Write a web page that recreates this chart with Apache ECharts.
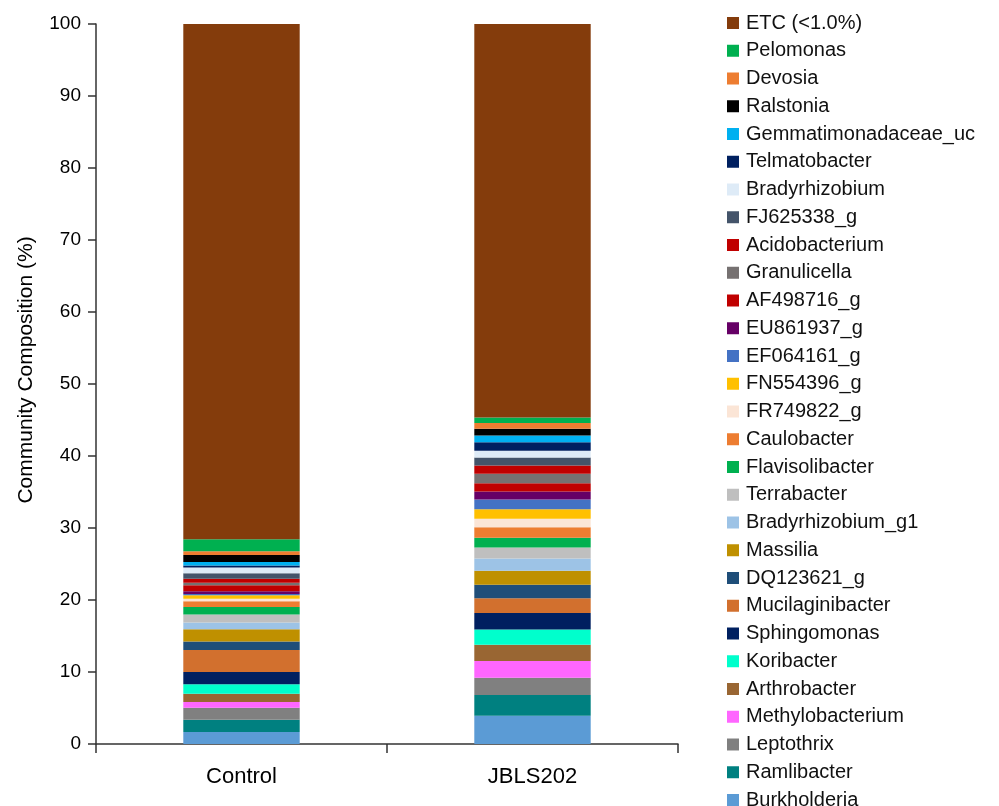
<!DOCTYPE html>
<html>
<head>
<meta charset="utf-8">
<script src="https://cdn.jsdelivr.net/npm/echarts@6/dist/echarts.min.js"></script>
<style>
html, body { margin: 0; padding: 0; background: #fff; }
#chart { width: 999px; height: 806px; }
</style>
</head>
<body>
<div id="chart"></div>
<script>
// stacking order: bottom of the bar first
var taxa = [
    'Burkholderia', 'Ramlibacter', 'Leptothrix', 'Methylobacterium', 'Arthrobacter',
    'Koribacter', 'Sphingomonas', 'Mucilaginibacter', 'DQ123621_g', 'Massilia',
    'Bradyrhizobium_g1', 'Terrabacter', 'Flavisolibacter', 'Caulobacter', 'FR749822_g',
    'FN554396_g', 'EF064161_g', 'EU861937_g', 'AF498716_g', 'Granulicella',
    'Acidobacterium', 'FJ625338_g', 'Bradyrhizobium', 'Telmatobacter', 'Gemmatimonadaceae_uc',
    'Ralstonia', 'Devosia', 'Pelomonas', 'ETC (<1.0%)'
];
var samples = ['Control', 'JBLS202'];
var controlValues = [
    1.67, 1.71, 1.67, 0.79, 1.15,
    1.31, 1.71, 3.06, 1.15, 1.72,
    0.92, 1.11, 1.07, 0.79, 0.36,
    0.47, 0.18, 0.37, 0.83, 0.36,
    0.56, 0.75, 0.80, 0.28, 0.49,
    0.97, 0.51, 1.67, 71.57
];
var jblsValues = [
    3.93, 2.87, 2.40, 2.32, 2.26,
    2.14, 2.26, 2.08, 1.85, 1.94,
    1.72, 1.53, 1.33, 1.48, 1.16,
    1.34, 1.34, 1.11, 1.16, 1.30,
    1.16, 1.11, 0.93, 1.20, 0.93,
    0.93, 0.79, 0.79, 54.65
];
var colors = [
    '#5B9BD5', '#008080', '#808080', '#FF66FF', '#996633',
    '#00FFCC', '#002060', '#D2702E', '#1F4E79', '#BF9000',
    '#9DC3E6', '#BFBFBF', '#00B050', '#ED7D31', '#FBE5D6',
    '#FFC000', '#4472C4', '#660066', '#C00000', '#767171',
    '#C00000', '#44546A', '#DEEBF7', '#002060', '#00B0F0',
    '#000000', '#ED7D31', '#00B050', '#843C0C'
];
var yTicks = [0, 100, 10];

var chart = echarts.init(document.getElementById('chart'));

var series = [];
for (var i = 0; i < taxa.length; i++) {
    series.push({
        name: taxa[i],
        type: 'bar',
        stack: 'total',
        barWidth: '40%',
        itemStyle: { color: colors[i] },
        emphasis: { disabled: true },
        data: [controlValues[i], jblsValues[i]]
    });
}

var option = {
    animation: false,
    textStyle: { fontFamily: 'Liberation Sans' },
    grid: {
        left: 96,
        right: 321,
        top: 24,
        bottom: 62,
        containLabel: false,
        outerBoundsMode: 'none'
    },
    legend: {
        orient: 'vertical',
        left: 727,
        top: 13,
        height: 820,
        padding: 0,
        itemWidth: 12,
        itemHeight: 12,
        itemGap: 7.75,
        icon: 'rect',
        selectedMode: false,
        data: taxa.slice().reverse(),
        textStyle: {
            fontSize: 20,
            color: '#111',
            padding: [0, 0, 0, 2]
        }
    },
    xAxis: {
        type: 'category',
        data: samples,
        axisLine: { lineStyle: { color: '#333', width: 1.5 } },
        axisTick: { show: true, length: 9, lineStyle: { color: '#333', width: 1.5 } },
        axisLabel: { fontSize: 22, color: '#000', margin: 22 }
    },
    yAxis: {
        type: 'value',
        min: yTicks[0],
        max: yTicks[1],
        interval: yTicks[2],
        name: 'Community Composition (%)',
        nameLocation: 'middle',
        nameRotate: 90,
        nameGap: 59,
        nameMoveOverlap: false,
        nameTextStyle: { fontSize: 21, color: '#000', padding: [0, 0, 0, 28] },
        splitLine: { show: false },
        axisLine: { show: true, lineStyle: { color: '#333', width: 1.5 } },
        axisTick: { show: true, length: 8, lineStyle: { color: '#333', width: 1.5 } },
        axisLabel: { fontSize: 19, color: '#000', margin: 15 }
    },
    series: series
};

chart.setOption(option);
</script>
</body>
</html>
